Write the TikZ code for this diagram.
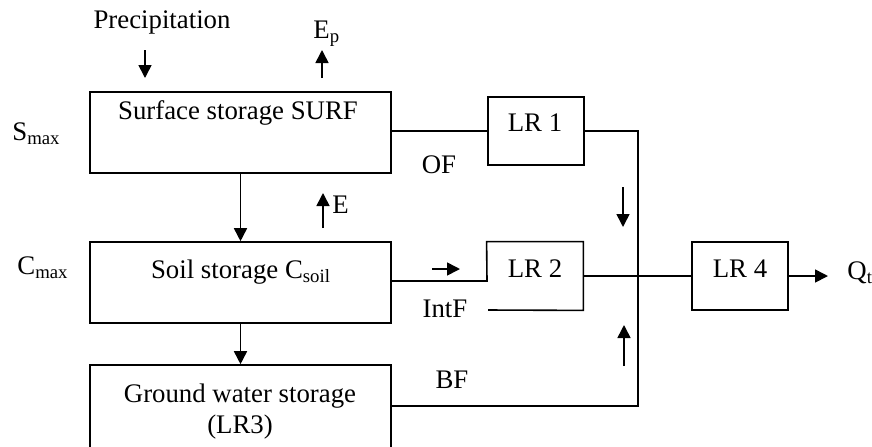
\documentclass[tikz,border=0pt]{standalone}
\usepackage{fontspec}
\setmainfont{Liberation Serif}
\usepackage{tikz}
\usetikzlibrary{positioning,arrows.meta,calc}
\newcommand{\diagfont}{\fontsize{13.4}{15.5}\selectfont}
\tikzset{
  box/.style={draw, rectangle, line width=0.8pt, inner sep=0pt},
  openbox/.style={draw=none, rectangle, inner sep=0pt},
  lbl/.style={font=\diagfont, inner sep=0pt, anchor=base, align=center},
  flow/.style={-{Triangle[length=6.5pt,width=6.5pt]}, line width=0.8pt},
  line/.style={line width=0.8pt},
}

\begin{document}
\begin{tikzpicture}[x=0.5pt,y=-0.5pt]
  \clip (0,0) rectangle (872,446);
  % storages
  \node[box, minimum width=150.5pt, minimum height=40.5pt] (surf) at (240.5,132.5) {};
  \node[box, minimum width=150.5pt, minimum height=40.5pt] (soil) at (240.5,282.5) {};
  \node[box, minimum width=150.5pt, minimum height=45pt] (ground) at (240.5,410) {};
  \node[lbl] (surftxt) at (238,119) {Surface storage SURF};
  \node[lbl] (soiltxt) at (241,278) {Soil storage C\textsubscript{soil}};
  \node[lbl, anchor=center] (groundtxt) at (240,412) {Ground water storage\\(LR3)};
  \node[lbl, anchor=base west] (smax) at (12,140) {S\textsubscript{max}};
  \node[lbl, anchor=base west] (cmax) at (17,274) {C\textsubscript{max}};
  % linear reservoirs
  \node[box, minimum width=48pt, minimum height=34pt] (lr1) at (536,131) {};
  \node[openbox, minimum width=48pt, minimum height=34pt] (lr2) at (535,276) {};
  \node[box, minimum width=48pt, minimum height=34pt] (lr4) at (740,276) {};
  \node[lbl] (lr1txt) at (535,131) {LR 1};
  \node[lbl] (lr2txt) at (535,277) {LR 2};
  \node[lbl] (lr4txt) at (740,277) {LR 4};
  % flux labels
  \node[lbl] (precip) at (162,28) {Precipitation};
  \node[lbl, anchor=base west] (ep) at (313,38) {E\textsubscript{p}};
  \node[lbl, anchor=base west] (e) at (332,213) {E};
  \node[lbl] (of) at (439,173) {OF};
  \node[lbl] (intf) at (445,317) {IntF};
  \node[lbl] (bf) at (452,388) {BF};
  \node[lbl, anchor=base west] (qt) at (847,279) {Q\textsubscript{t}};
  % free ends
  \coordinate (pin1) at (145,50);   \coordinate (pin2) at (145,78);
  \coordinate (ep1) at (322,78);    \coordinate (ep2) at (322,50);
  \coordinate (e1) at (323,228);    \coordinate (e2) at (323,193);
  \coordinate (if1) at (432,269);   \coordinate (if2) at (460,269);
  \coordinate (of1) at (623,187);   \coordinate (of2) at (623,227);
  \coordinate (bf1) at (624,366);   \coordinate (bf2) at (624,325);
  \coordinate (lr2in) at (487,281);
  \coordinate (intfend) at (488,310);
  \coordinate (ctop) at (638,131);
  \coordinate (cbot) at (638,406);
  \coordinate (qtip) at (828,276);
  % connections
  \draw[flow] (surf) -- (soil);
  \draw[flow] (soil) -- (ground);
  \draw[line] (surf.east |- lr1) -- (lr1.west);
  \draw[line] (soil.east |- lr2in) -- (lr2in) -- (lr2.north west) -- (lr2.north east)
    -- (lr2.south east) -- (intfend);
  \draw[line] (lr1.east) -- (ctop) -- (cbot) -- (ground.east |- cbot);
  \draw[line] (lr2.east) -- (lr4.west);
  \draw[flow] (lr4.east) -- (qtip);
  \draw[flow] (pin1) -- (pin2);
  \draw[flow] (ep1) -- (ep2);
  \draw[flow] (e1) -- (e2);
  \draw[flow] (if1) -- (if2);
  \draw[flow] (of1) -- (of2);
  \draw[flow] (bf1) -- (bf2);
\end{tikzpicture}
\end{document}
